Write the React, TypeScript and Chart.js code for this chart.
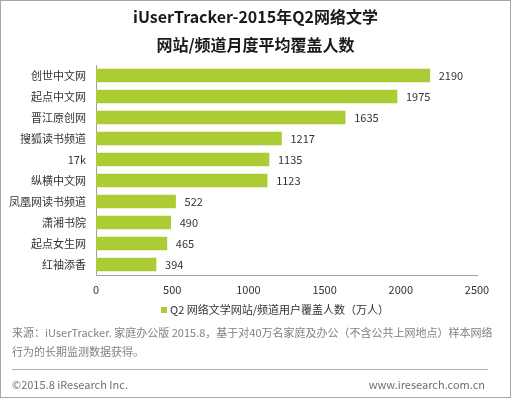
import React, { useEffect, useRef } from "react";
import { Chart, registerables } from "chart.js";

Chart.register(...registerables);

const categories = ["创世中文网", "起点中文网", "晋江原创网", "搜狐读书频道", "17k", "纵横中文网", "凤凰网读书频道", "潇湘书院", "起点女生网", "红袖添香"];
const values = [2190, 1975, 1635, 1217, 1135, 1123, 522, 490, 465, 394];
const titleLines = ["iUserTracker-2015年Q2网络文学", "网站/频道月度平均覆盖人数"];
const seriesLabel = "Q2 网络文学网站/频道用户覆盖人数（万人）";
const sourceLines = ["来源：iUserTracker. 家庭办公版 2015.8，基于对40万名家庭及办公（不含公共上网地点）样本网络", "行为的长期监测数据获得。"];
const copyrightText = "©2015.8 iResearch Inc.";
const urlText = "www.iresearch.com.cn";

const FONT = "'Noto Sans CJK SC', 'Noto Sans', sans-serif";
const BAR = "#abcc35";

const decorPlugin = {
  id: "decor",
  beforeDraw(chart: any) {
    const ctx = chart.ctx;
    const w = chart.width, h = chart.height;
    ctx.save();
    ctx.fillStyle = "#ffffff";
    ctx.fillRect(0, 0, w, h);
    ctx.restore();
  },
  afterDraw(chart: any) {
    const ctx = chart.ctx;
    const w = chart.width, h = chart.height;
    ctx.save();
    ctx.strokeStyle = "#a6a6a6";
    ctx.lineWidth = 1;
    ctx.strokeRect(0.5, 0.5, w - 1, h - 1);
    ctx.fillStyle = "#1a1a1a";
    ctx.font = `bold 16px ${FONT}`;
    ctx.textAlign = "center";
    ctx.textBaseline = "middle";
    ctx.fillText(titleLines[0], w / 2, 17);
    ctx.fillText(titleLines[1], w / 2, 45);
    ctx.fillStyle = BAR;
    ctx.fillRect(161, 307, 6, 6);
    ctx.fillStyle = "#333333";
    ctx.font = `11px ${FONT}`;
    ctx.textAlign = "left";
    ctx.fillText(seriesLabel, 170, 310);
    ctx.fillStyle = "#808080";
    ctx.font = `11px ${FONT}`;
    ctx.fillText(sourceLines[0], 12, 333);
    ctx.fillText(sourceLines[1], 12, 352);
    ctx.strokeStyle = "#b0b0b0";
    ctx.beginPath();
    ctx.moveTo(12, 369.5);
    ctx.lineTo(488, 369.5);
    ctx.stroke();
    ctx.fillStyle = "#707070";
    ctx.font = `11px ${FONT}`;
    ctx.fillText(copyrightText, 12, 385);
    ctx.textAlign = "right";
    ctx.fillText(urlText, 485, 385);
    ctx.restore();
  },
  afterDatasetsDraw(chart: any) {
    const ctx = chart.ctx;
    const meta = chart.getDatasetMeta(0);
    ctx.save();
    ctx.fillStyle = "#333333";
    ctx.font = `11px ${FONT}`;
    ctx.textAlign = "left";
    ctx.textBaseline = "middle";
    meta.data.forEach((el: any, i: number) => {
      ctx.fillText(String(values[i]), el.x + 9, el.y);
    });
    ctx.restore();
  },
};

export default function App() {
  const ref = useRef<HTMLCanvasElement>(null);
  useEffect(() => {
    document.body.style.margin = "0";
    const chart = new Chart(ref.current as HTMLCanvasElement, {
      type: "bar",
      data: {
        labels: categories,
        datasets: [{ label: seriesLabel, data: values, backgroundColor: BAR, barThickness: 13 }],
      },
      options: {
        animation: false,
        responsive: false,
        indexAxis: "y",
        layout: { padding: { left: 0, top: 65, right: 34, bottom: 0 } },
        plugins: { legend: { display: false }, tooltip: { enabled: false }, title: { display: false } },
        scales: {
          y: {
            grid: { display: false, drawTicks: false },
            border: { display: true, color: "#a0a0a0" },
            ticks: { color: "#333333", font: { family: FONT, size: 11 }, padding: 10 },
            afterFit(scale: any) { scale.width = 96; },
          },
          x: {
            min: 0,
            max: 2500,
            grid: { display: false, drawTicks: false },
            border: { display: true, color: "#a0a0a0" },
            ticks: {
              stepSize: 500,
              color: "#333333",
              font: { family: FONT, size: 11 },
              padding: 8,
              callback: (v: any) => String(v),
            },
            afterFit(scale: any) { scale.height = 123; },
          },
        },
      },
      plugins: [decorPlugin],
    } as any);
    return () => chart.destroy();
  }, []);
  return (
    <div style={{ position: "fixed", left: 0, top: 0, width: 511, height: 398 }}>
      <canvas ref={ref} width={511} height={398} style={{ width: 511, height: 398 }} />
    </div>
  );
}
